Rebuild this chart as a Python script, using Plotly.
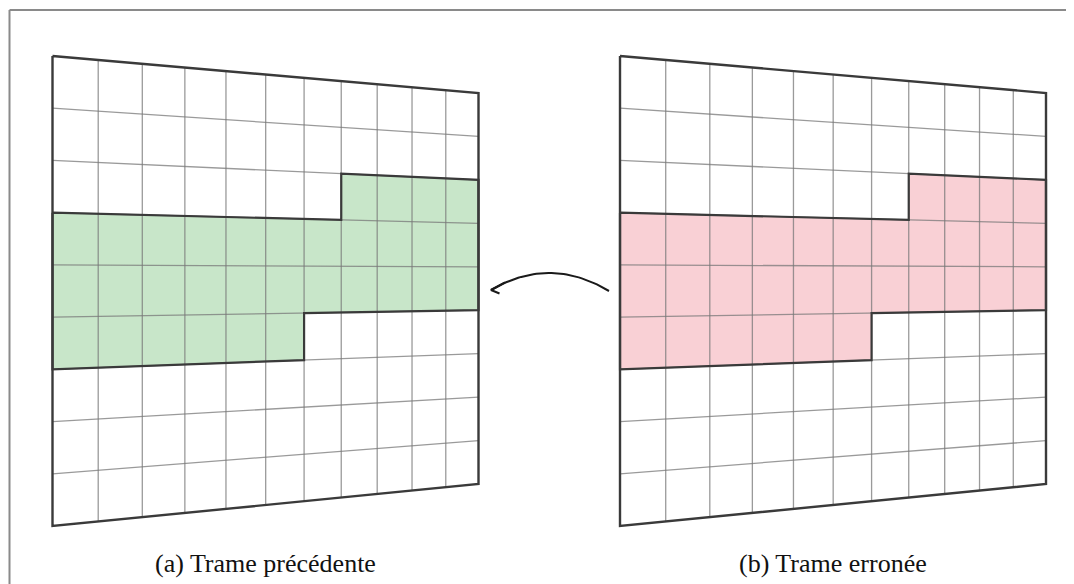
import numpy as np
import plotly.graph_objects as go

# ---------------- data ----------------
FIG_W, FIG_H = 1074, 584
PAGE_MARGIN = 8      # browser body margin around the plot
N_COLS = 11          # columns of the grid
N_ROWS = 9           # rows of the grid
# corners of grid (a) in pixels: top-left, top-right, bottom-right, bottom-left
GRID_A_X = [52.5, 478.5, 478.5, 52.5]
GRID_A_Y = [56.0, 93.0, 484.0, 526.0]
GRID_B_SHIFT = 567.5                   # grid (b) is the same grid moved right
# highlighted band: for each column, top and bottom row line
FILL_TOP = [3, 3, 3, 3, 3, 3, 3, 2, 2, 2, 2]
FILL_BOTTOM = [6, 6, 6, 6, 6, 6, 5, 5, 5, 5, 5]
CAPTIONS = ["(a) Trame précédente", "(b) Trame erronée"]
FILL_COLORS = ["#c8e6c9", "#f9d0d5"]
# arrow (from b to a): start, control, end
ARROW_X = [609.0, 550.0, 491.0]
ARROW_Y = [291.0, 255.5, 290.0]


def homography(src, dst):
    A, b = [], []
    for (u, v), (x, y) in zip(src, dst):
        A.append([u, v, 1, 0, 0, 0, -u * x, -v * x]); b.append(x)
        A.append([0, 0, 0, u, v, 1, -u * y, -v * y]); b.append(y)
    h = np.linalg.solve(np.array(A, float), np.array(b, float))
    return np.append(h, 1).reshape(3, 3)


def mapper(Hm):
    def f(u, v):
        p = Hm @ np.array([u, v, 1.0])
        return p[0] / p[2], p[1] / p[2]
    return f


fig = go.Figure()


def line(xs, ys, color, width):
    fig.add_trace(go.Scatter(x=xs, y=ys, mode="lines",
                             line=dict(color=color, width=width),
                             hoverinfo="skip", showlegend=False))


src = [(0, 0), (N_COLS, 0), (N_COLS, N_ROWS), (0, N_ROWS)]
for k, shift in enumerate([0.0, GRID_B_SHIFT]):
    dst = [(x + shift, y) for x, y in zip(GRID_A_X, GRID_A_Y)]
    f = mapper(homography(src, dst))

    # band polygon
    poly = []
    for c in range(N_COLS):
        poly.append((c, FILL_TOP[c])); poly.append((c + 1, FILL_TOP[c]))
    for c in reversed(range(N_COLS)):
        poly.append((c + 1, FILL_BOTTOM[c])); poly.append((c, FILL_BOTTOM[c]))
    pts = [f(u, v) for u, v in poly]
    px = [p[0] for p in pts] + [pts[0][0]]
    py = [p[1] for p in pts] + [pts[0][1]]
    fig.add_trace(go.Scatter(x=px, y=py, mode="lines", fill="toself",
                             fillcolor=FILL_COLORS[k], line=dict(width=0),
                             hoverinfo="skip", showlegend=False))

    # inner grid lines
    gx, gy = [], []
    for c in range(1, N_COLS):
        a, b = f(c, 0), f(c, N_ROWS)
        gx += [a[0], b[0], None]; gy += [a[1], b[1], None]
    for r in range(1, N_ROWS):
        a, b = f(0, r), f(N_COLS, r)
        gx += [a[0], b[0], None]; gy += [a[1], b[1], None]
    line(gx, gy, "rgba(120,120,120,0.75)", 1.3)

    # band outline
    line(px, py, "#3a3a3a", 2.2)

    # outer border
    ox, oy = zip(*[f(u, v) for u, v in src + [src[0]]])
    line(list(ox), list(oy), "#3a3a3a", 2.4)

    cx = (GRID_A_X[0] + GRID_A_X[1]) / 2 + shift
    fig.add_annotation(x=cx, y=563, text=CAPTIONS[k], showarrow=False,
                       xanchor="center", yanchor="middle",
                       font=dict(family="Liberation Serif", size=26, color="#111"))

# curved arrow (quadratic Bezier)
t = np.linspace(0, 1, 40)
bx = (1 - t) ** 2 * ARROW_X[0] + 2 * (1 - t) * t * ARROW_X[1] + t ** 2 * ARROW_X[2]
by = (1 - t) ** 2 * ARROW_Y[0] + 2 * (1 - t) * t * ARROW_Y[1] + t ** 2 * ARROW_Y[2]
line(bx, by, "#1a1a1a", 2)
tipx, tipy = ARROW_X[2], ARROW_Y[2]
line([tipx + 14, tipx, tipx + 8.5], [tipy - 7.5, tipy, tipy + 3.5], "#1a1a1a", 2)

# frame (top and left edges visible)
fig.add_shape(type="line", xref="x", yref="y", x0=9.5, y0=10, x1=FIG_W + 20, y1=10,
              line=dict(color="#8a8a8a", width=2))
fig.add_shape(type="line", xref="x", yref="y", x0=9.5, y0=10, x1=9.5, y1=FIG_H + 20,
              line=dict(color="#8a8a8a", width=2))

m = PAGE_MARGIN
fig.update_layout(
    width=FIG_W - m, height=FIG_H - m, margin=dict(l=0, r=0, t=0, b=0),
    paper_bgcolor="white", plot_bgcolor="white",
    xaxis=dict(range=[m, FIG_W], visible=False, fixedrange=True),
    yaxis=dict(range=[FIG_H, m], visible=False, fixedrange=True),
)
fig.write_html("out.html")
